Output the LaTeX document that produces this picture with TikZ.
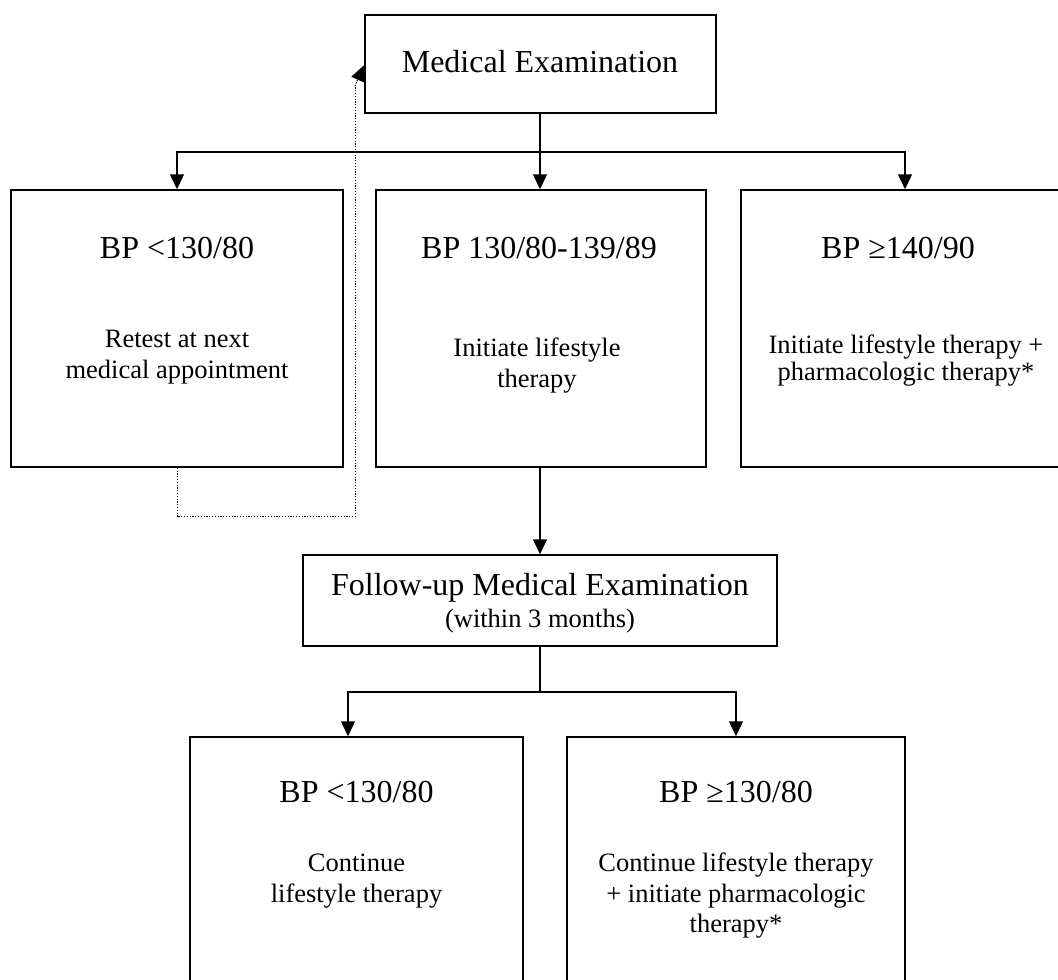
\documentclass[tikz,border=0pt]{standalone}
\usepackage{fontspec}
\setmainfont{Liberation Serif}
\usetikzlibrary{arrows.meta}

\tikzset{
  box/.style={draw, line width=1.5pt, inner sep=0pt, fill=white},
  big/.style={inner sep=0pt, anchor=base, font=\fontsize{32}{38}\selectfont},
  small/.style={inner sep=0pt, anchor=base, font=\fontsize{26.5}{31}\selectfont},
  conn/.style={line width=1.5pt},
  arr/.style={conn, -{Triangle[width=14pt,length=15pt]}},
  dotline/.style={line width=1pt, dash pattern=on 1.2pt off 1.6pt},
}

\begin{document}
\begin{tikzpicture}[x=1pt, y=-1pt]
\useasboundingbox (0,0) rectangle (1058,980);
\clip (0,0) rectangle (1058,980);

% boxes
\node[box, minimum width=351pt, minimum height=98pt]  (exam) at (540.5,64) {};
\node[box, minimum width=332pt, minimum height=277pt] (bp1)  at (177,328.5) {};
\node[box, minimum width=330pt, minimum height=277pt] (bp2)  at (541,328.5) {};
\node[box, minimum width=328pt, minimum height=277pt] (bp3)  at (905,328.5) {};
\node[box, minimum width=474pt, minimum height=91pt]  (fu)   at (540,600.5) {};
\node[box, minimum width=333pt, minimum height=263pt] (bl)   at (356.5,868.5) {};
\node[box, minimum width=338pt, minimum height=263pt] (br)   at (736,868.5) {};

% texts
\node[big] (examt) at (540,72) {Medical Examination};

\node[big]   (bp1t) at (177,258) {BP <130/80};
\node[small] (bp1a) at (177,347) {Retest at next};
\node[small] (bp1b) at (177,378) {medical appointment};

\node[big]   (bp2t) at (539,258) {BP 130/80-139/89};
\node[small] (bp2a) at (537,356) {Initiate lifestyle};
\node[small] (bp2b) at (537,387) {therapy};

\node[big]   (bp3t) at (898,258) {BP ≥140/90};
\node[small] (bp3a) at (906,353) {Initiate lifestyle therapy +};
\node[small] (bp3b) at (906,380) {pharmacologic therapy*};

\node[big]   (fut) at (540,595) {Follow-up Medical Examination};
\node[small] (fua) at (540,627) {(within 3 months)};

\node[big]   (blt) at (356.5,802) {BP <130/80};
\node[small] (bla) at (356.5,871) {Continue};
\node[small] (blb) at (356.5,902) {lifestyle therapy};

\node[big]   (brt) at (736,802) {BP ≥130/80};
\node[small] (bra) at (736,871) {Continue lifestyle therapy};
\node[small] (brb) at (736,902) {+ initiate pharmacologic};
\node[small] (brc) at (736,932) {therapy*};

% branch points
\coordinate (split)  at (540,152);
\coordinate (split2) at (540,692);
\coordinate (blin)   at ([xshift=-8.5pt]bl.north);
\coordinate (ret)    at (355,86);

% connectors from the first examination
\draw[conn] (exam.south -| split) -- (split);
\draw[arr]  (split) -| (bp1.north);
\draw[arr]  (split) -- (split |- bp2.north);
\draw[arr]  (split) -| (bp3.north);

% to the follow-up examination
\draw[arr]  (bp2.south -| split) -- (split |- fu.north);

% connectors from the follow-up examination
\draw[conn] (fu.south) -- (split2);
\draw[arr]  (split2) -| (blin);
\draw[arr]  (split2) -| (br.north);

% retest loop back to the examination
\draw[dotline] (bp1.south) -- ++(0,49) -| (ret);
\draw[dotline, -{Triangle[width=14pt,length=16pt,fill=black]}] (ret) -- ([yshift=-1pt]exam.west);
\end{tikzpicture}
\end{document}
